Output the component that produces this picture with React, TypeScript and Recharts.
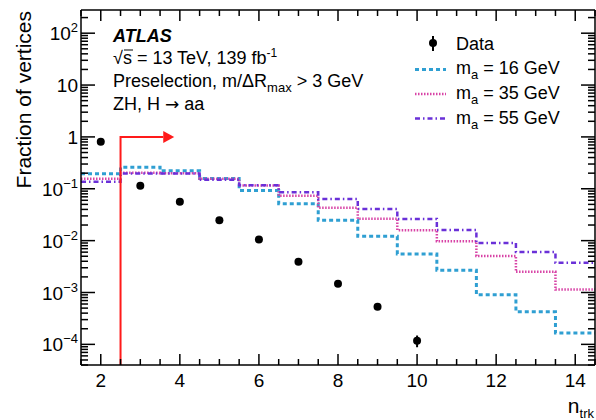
import React from 'react'
import {
  ComposedChart,
  Line,
  Scatter,
  ErrorBar,
  XAxis,
  YAxis,
} from 'recharts'

// number of tracks per vertex (bin centres)
const NTRK = [2, 3, 4, 5, 6, 7, 8, 9, 10, 11, 12, 13, 14]

// data: fraction of vertices for n_trk = 2..10
const DATA_NTRK = [2, 3, 4, 5, 6, 7, 8, 9, 10]
const DATA_FRAC = [0.81, 0.114, 0.056, 0.0246, 0.0105, 0.0039, 0.00147, 0.00053, 0.000118]
const DATA_ERR = [0, 0, 0, 0, 0, 0, 0, 0, 0.00003]

// signal samples, one value per n_trk bin
const M16 = [0.194, 0.261, 0.222, 0.158, 0.0928, 0.0515, 0.0246, 0.0121, 0.00555, 0.00269, 0.000903, 0.000426, 0.000165]
const M35 = [0.156, 0.203, 0.2, 0.156, 0.116, 0.0733, 0.0431, 0.0265, 0.0159, 0.0097, 0.00508, 0.0025, 0.00114]
const M55 = [0.136, 0.196, 0.196, 0.15, 0.117, 0.0857, 0.0634, 0.0407, 0.0261, 0.0161, 0.00904, 0.00606, 0.00373]

// selection cut n_trk > 2 with arrow
const CUT_X = [2.5, 2.5, 3.58]
const CUT_Y = [4e-5, 1, 1]

const X_DOMAIN: [number, number] = [1.5, 14.5]
const Y_DOMAIN: [number, number] = [4e-5, 280]

const FONT = '"Liberation Sans", Arial, Helvetica, sans-serif'
const C16 = '#2f9fd2'
const C35 = '#d843a6'
const C55 = '#6a30d8'

const stepData = (vals: number[]) => {
  const pts = NTRK.map((n, i) => ({ x: n - 0.5, y: vals[i] }))
  pts.push({ x: NTRK[NTRK.length - 1] + 0.5, y: vals[vals.length - 1] })
  return pts
}

const dataPoints = DATA_NTRK.map((n, i) => ({ x: n, y: DATA_FRAC[i], err: DATA_ERR[i] }))
const cutLine = CUT_X.map((x, i) => ({ x, y: CUT_Y[i] }))
const arrowHead = [{ x: CUT_X[2], y: CUT_Y[2] }]

const xTicks: number[] = []
for (let v = X_DOMAIN[0]; v <= X_DOMAIN[1] + 1e-9; v += 0.5) xTicks.push(v)

const yTicks: number[] = []
for (let e = -5; e <= 2; e++) {
  for (let k = 1; k <= 9; k++) {
    const v = k * Math.pow(10, e)
    if (v >= Y_DOMAIN[0] && v <= Y_DOMAIN[1]) yTicks.push(v)
  }
}

const isMajorY = (v: number) => {
  const l = Math.log10(v)
  return Math.abs(l - Math.round(l)) < 1e-6
}

const YLabel = ({ x, y, v }: { x: number; y: number; v: number }) => {
  const e = Math.round(Math.log10(v))
  if (e === 0 || e === 1) {
    return (
      <text x={x} y={y + 7} textAnchor="end" fontSize={19} fontFamily={FONT}>
        {e === 0 ? '1' : '10'}
      </text>
    )
  }
  return (
    <text x={x} y={y + 7} textAnchor="end" fontSize={19} fontFamily={FONT}>
      <tspan>10</tspan>
      <tspan dy={-8} fontSize={13}>{e < 0 ? '\u2212' + -e : String(e)}</tspan>
    </text>
  )
}

const LeftTick = (props: any) => {
  const { x, y, payload } = props
  const major = isMajorY(payload.value)
  return (
    <g>
      <line x1={x} x2={x + (major ? 14 : 7)} y1={y} y2={y} stroke="#000" strokeWidth={1.5} />
      {major && <YLabel x={x - 3} y={y} v={payload.value} />}
    </g>
  )
}

const RightTick = (props: any) => {
  const { x, y, payload } = props
  const major = isMajorY(payload.value)
  return <line x1={x} x2={x - (major ? 14 : 7)} y1={y} y2={y} stroke="#000" strokeWidth={1.5} />
}

const BottomTick = (props: any) => {
  const { x, y, payload } = props
  const major = payload.value % 2 === 0
  return (
    <g>
      <line x1={x} x2={x} y1={y} y2={y - (major ? 11 : 6)} stroke="#000" strokeWidth={1.5} />
      {major && (
        <text x={x} y={y + 22} textAnchor="middle" fontSize={19} fontFamily={FONT}>
          {payload.value}
        </text>
      )}
    </g>
  )
}

const TopTick = (props: any) => {
  const { x, y, payload } = props
  const major = payload.value % 2 === 0
  return <line x1={x} x2={x} y1={y} y2={y + (major ? 11 : 6)} stroke="#000" strokeWidth={1.5} />
}

const Arrow = (props: any) => {
  const { cx, cy } = props
  return <polygon points={`${cx},${cy - 6} ${cx + 11},${cy} ${cx},${cy + 6}`} fill="#ff1a1a" />
}

const Dot = (props: any) => <circle cx={props.cx} cy={props.cy} r={4} fill="#000" />

const Overlay = () => (
  <svg
    width={596}
    height={420}
    style={{ position: 'absolute', left: 0, top: 0, pointerEvents: 'none' }}
    fontFamily={FONT}
  >
    <text x={31} y={11} transform="rotate(-90 31 11)" textAnchor="end" fontSize={21}>
      Fraction of vertices
    </text>
    <text x={594} y={413} textAnchor="end" fontSize={21}>
      <tspan>n</tspan>
      <tspan dy={5} fontSize={13}>trk</tspan>
    </text>

    <text x={113} y={42} fontSize={18} fontWeight="bold" fontStyle="italic">ATLAS</text>
    <text x={113} y={64} fontSize={18}>
      <tspan>{'\u221A'}</tspan>
      <tspan>{'s = 13 TeV, 139 fb'}</tspan>
      <tspan dy={-7} fontSize={12}>-1</tspan>
    </text>
    <line x1={124} x2={133} y1={50} y2={50} stroke="#000" strokeWidth={1} />
    <text x={113} y={87} fontSize={18}>
      <tspan>{'Preselection, m/\u0394R'}</tspan>
      <tspan dy={5} fontSize={13}>max</tspan>
      <tspan dy={-5}>{' > 3 GeV'}</tspan>
    </text>
    <text x={113} y={110} fontSize={18}>
      <tspan>{'ZH, H '}</tspan>
      <tspan fontFamily='"DejaVu Sans", sans-serif' fontSize={17}>{'\u2192'}</tspan>
      <tspan>{' aa'}</tspan>
    </text>

    <line x1={433} x2={433} y1={36} y2={51} stroke="#000" strokeWidth={2} />
    <circle cx={433} cy={43} r={4} fill="#000" />
    <text x={456} y={49.5} fontSize={18}>Data</text>

    <line x1={415} x2={446} y1={69.5} y2={69.5} stroke={C16} strokeWidth={3} strokeDasharray="4 3" />
    <text x={456} y={74} fontSize={18}>
      <tspan>m</tspan>
      <tspan dy={5} fontSize={13}>a</tspan>
      <tspan dy={-5}> = 16 GeV</tspan>
    </text>
    <line x1={415} x2={446} y1={94} y2={94} stroke={C35} strokeWidth={2.5} strokeDasharray="1.5 1.5" />
    <text x={456} y={99} fontSize={18}>
      <tspan>m</tspan>
      <tspan dy={5} fontSize={13}>a</tspan>
      <tspan dy={-5}> = 35 GeV</tspan>
    </text>
    <line x1={415} x2={446} y1={118.5} y2={118.5} stroke={C55} strokeWidth={2.5} strokeDasharray="5 3 1.5 3" />
    <text x={456} y={124} fontSize={18}>
      <tspan>m</tspan>
      <tspan dy={5} fontSize={13}>a</tspan>
      <tspan dy={-5}> = 55 GeV</tspan>
    </text>
  </svg>
)

export default function App() {
  return (
    <div style={{ position: 'absolute', left: 0, top: 0, width: 596, height: 420, background: '#fff' }}>
      <ComposedChart width={596} height={420} margin={{ top: 9, right: 0, bottom: 0, left: 0 }}>
        <XAxis
          xAxisId="b"
          dataKey="x"
          type="number"
          domain={X_DOMAIN}
          ticks={xTicks}
          interval={0}
          allowDataOverflow
          height={55}
          tickSize={0}
          tickMargin={0}
          tickLine={false}
          tick={<BottomTick />}
          axisLine={{ stroke: '#000', strokeWidth: 1.5 }}
        />
        <XAxis
          xAxisId="t"
          orientation="top"
          dataKey="x"
          type="number"
          domain={X_DOMAIN}
          ticks={xTicks}
          interval={0}
          allowDataOverflow
          height={1}
          tickSize={0}
          tickMargin={0}
          tickLine={false}
          tick={<TopTick />}
          axisLine={{ stroke: '#000', strokeWidth: 1.5 }}
        />
        <YAxis
          yAxisId="l"
          type="number"
          scale="log"
          domain={Y_DOMAIN}
          ticks={yTicks}
          interval={0}
          allowDataOverflow
          width={81}
          tickSize={0}
          tickMargin={0}
          tickLine={false}
          tick={<LeftTick />}
          axisLine={{ stroke: '#000', strokeWidth: 1.5 }}
        />
        <YAxis
          yAxisId="r"
          orientation="right"
          type="number"
          scale="log"
          domain={Y_DOMAIN}
          ticks={yTicks}
          interval={0}
          allowDataOverflow
          width={1}
          tickSize={0}
          tickMargin={0}
          tickLine={false}
          tick={<RightTick />}
          axisLine={{ stroke: '#000', strokeWidth: 1.5 }}
        />

        <Line
          xAxisId="b"
          yAxisId="l"
          data={stepData(M16)}
          dataKey="y"
          type="stepAfter"
          stroke={C16}
          strokeWidth={3}
          strokeDasharray="4 3"
          dot={false}
          activeDot={false}
          isAnimationActive={false}
        />
        <Line
          xAxisId="b"
          yAxisId="l"
          data={stepData(M35)}
          dataKey="y"
          type="stepAfter"
          stroke={C35}
          strokeWidth={2.5}
          strokeDasharray="1.5 1.5"
          dot={false}
          activeDot={false}
          isAnimationActive={false}
        />
        <Line
          xAxisId="b"
          yAxisId="l"
          data={stepData(M55)}
          dataKey="y"
          type="stepAfter"
          stroke={C55}
          strokeWidth={2.5}
          strokeDasharray="5 3 1.5 3"
          dot={false}
          activeDot={false}
          isAnimationActive={false}
        />

        <Line
          xAxisId="b"
          yAxisId="l"
          data={cutLine}
          dataKey="y"
          type="linear"
          stroke="#ff1a1a"
          strokeWidth={2}
          dot={false}
          activeDot={false}
          isAnimationActive={false}
        />
        <Scatter
          xAxisId="b"
          yAxisId="l"
          data={arrowHead}
          dataKey="y"
          shape={<Arrow />}
          isAnimationActive={false}
        />

        <Scatter
          xAxisId="b"
          yAxisId="l"
          data={dataPoints}
          dataKey="y"
          shape={<Dot />}
          isAnimationActive={false}
        >
          <ErrorBar dataKey="err" direction="y" width={0} stroke="#000" strokeWidth={2} />
        </Scatter>
      </ComposedChart>
      <Overlay />
    </div>
  )
}
